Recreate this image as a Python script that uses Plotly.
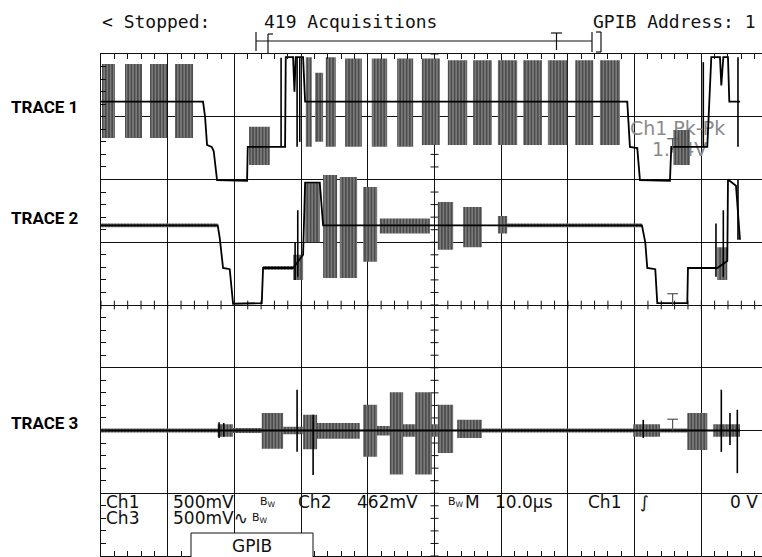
import plotly.graph_objects as go

# ---------------- data ----------------
# time axis: microseconds from the left graticule edge (10 us / div)
# vertical axis: screen divisions from the centre line (+4 top, -4 bottom)

# TRACE 1 : step (level) path
tr1_step_t = [0, 15.3, 15.6, 15.9, 16.6, 16.9, 17.4, 21.9, 22.0, 27.6, 27.7, 28.8, 29.0, 29.2, 30.3, 30.6,
              78.9, 79.3, 80.4, 80.8, 85.3, 85.5, 90.9, 91.5, 92.8, 93.0, 93.3, 94.0, 94.2, 95.8]
tr1_step_v = [3.24, 3.24, 3.0, 2.55, 2.52, 2.45, 1.99, 1.98, 2.52, 2.52, 3.95, 3.95, 3.4, 3.95, 3.95, 3.24,
              3.24, 2.52, 2.50, 1.99, 1.98, 2.52, 2.52, 3.95, 3.95, 3.5, 3.95, 3.95, 3.24, 3.24]
# TRACE 1 : oscillation bursts (start, end, envelope low, envelope high)
tr1_burst_t0 = [0.15, 3.6, 7.35, 11.1, 22.2, 30.7, 32.1, 33.7, 36.6, 40.6, 44.4, 48.1, 52.0, 55.8, 59.5, 63.3, 67.0, 71.1, 74.8, 85.8]
tr1_burst_t1 = [2.1, 6.15, 9.9, 13.8, 25.3, 31.6, 33.3, 35.2, 39.1, 42.9, 46.8, 50.8, 54.9, 58.6, 62.4, 66.1, 69.9, 73.8, 77.8, 88.3]
tr1_burst_lo = [2.66, 2.66, 2.66, 2.66, 2.23, 2.52, 2.60, 2.52, 2.52, 2.52, 2.52, 2.55, 2.55, 2.55, 2.55, 2.55, 2.55, 2.55, 2.55, 2.23]
tr1_burst_hi = [3.84, 3.84, 3.84, 3.84, 2.84, 3.95, 3.70, 3.95, 3.93, 3.93, 3.93, 3.93, 3.90, 3.90, 3.90, 3.90, 3.90, 3.90, 3.90, 2.79]
# TRACE 1 : single spikes
tr1_spike_t = [27.0, 29.4, 29.8, 90.3, 95.5]
tr1_spike_lo = [2.52, 2.52, 2.60, 2.52, 2.52]
tr1_spike_hi = [3.94, 3.95, 3.95, 3.87, 3.95]

# TRACE 2
tr2_step_t = [0, 17.5, 17.8, 18.3, 19.3, 19.8, 24.1, 24.3, 28.8, 30.3, 30.6, 32.8, 33.3,
              81.1, 81.6, 81.9, 83.1, 83.4, 87.9, 88.0, 92.4, 93.9, 94.0, 95.2, 95.8]
tr2_step_v = [1.27, 1.27, 1.07, 0.59, 0.57, 0.02, 0.03, 0.59, 0.59, 0.80, 1.95, 1.95, 1.27,
              1.27, 1.00, 0.59, 0.57, 0.03, 0.03, 0.59, 0.59, 0.70, 2.00, 1.90, 1.04]
tr2_burst_t0 = [0.0, 24.3, 28.8, 30.6, 33.3, 35.8, 39.3, 41.8, 50.5, 54.3, 59.5, 60.9, 92.4]
tr2_burst_t1 = [17.5, 28.8, 30.3, 32.8, 35.4, 38.4, 41.4, 49.3, 52.8, 57.1, 60.9, 81.1, 93.9]
tr2_burst_lo = [1.24, 0.56, 0.40, 1.00, 0.43, 0.43, 0.69, 1.14, 0.88, 0.92, 1.14, 1.24, 0.40]
tr2_burst_hi = [1.30, 0.62, 0.80, 1.94, 2.07, 2.04, 1.88, 1.38, 1.64, 1.56, 1.42, 1.30, 0.92]
tr2_spike_t = [29.1, 29.5, 92.2, 93.3, 95.5]
tr2_spike_lo = [0.40, 0.45, 0.45, 0.45, 1.04]
tr2_spike_hi = [1.00, 1.51, 1.30, 1.51, 2.00]

# TRACE 3
tr3_step_t = [0, 95.8]
tr3_step_v = [-2.0, -2.0]
tr3_burst_t0 = [0.0, 17.5, 19.8, 24.1, 27.3, 30.3, 32.4, 39.3, 41.4, 43.3, 45.3, 47.1, 49.6, 50.5, 53.4, 57.1, 79.8, 83.8, 87.9, 91.8]
tr3_burst_t1 = [17.5, 19.8, 24.1, 27.3, 30.3, 32.4, 38.8, 41.4, 43.3, 45.3, 47.1, 49.6, 50.5, 52.8, 57.1, 79.8, 83.8, 87.9, 90.9, 95.8]
tr3_burst_lo = [-2.03, -2.10, -2.04, -2.29, -2.06, -2.30, -2.13, -2.42, -2.08, -2.70, -2.10, -2.70, -2.10, -2.36, -2.12, -2.03, -2.10, -2.03, -2.31, -2.10]
tr3_burst_hi = [-1.97, -1.90, -1.96, -1.72, -1.94, -1.75, -1.88, -1.59, -1.93, -1.39, -1.90, -1.39, -1.90, -1.59, -1.83, -1.97, -1.90, -1.97, -1.72, -1.90]
tr3_spike_t = [17.7, 18.4, 29.4, 31.8, 81.3, 93.0, 94.3, 95.4]
tr3_spike_lo = [-2.12, -2.10, -2.34, -2.71, -2.12, -2.34, -2.23, -2.68]
tr3_spike_hi = [-1.87, -1.88, -1.35, -1.75, -1.83, -1.35, -1.72, -1.67]

# trigger-point markers
trig_t = 85.7
trig_base = [2.47, 0.0, -2.0]

trace_names = ["TRACE 1", "TRACE 2", "TRACE 3"]
header_texts = ["< Stopped:", "419 Acquisitions", "GPIB Address: 1"]
meas_label = "Ch1 Pk-Pk"
meas_value = "1.44V"
readout_row1 = ["Ch1", "500mV", "B<sub>W</sub>", "Ch2", "462mV", "B<sub>W</sub>", "M", "10.0\u00b5s", "Ch1", "\u222b", "0 V"]
readout_row2 = ["Ch3", "500mV\u223f", "B<sub>W</sub>"]
menu_button = "GPIB"

# ---------------- layout helpers (pixel geometry of the screen) ----------------
W, H = 762, 557
L, T, B = 101, 54, 1
PW, PH = W - L, H - T - B
XMAX = PW / 6.67  # 10 us per 66.7 px


def px(xp):
    return (xp - L) / PW


def py(yp):
    return (H - B - yp) / PH


INK = "#111111"
FONT = "DejaVu Sans"
MONO = "DejaVu Sans Mono"

fig = go.Figure()

# centre cross-hair minor ticks
cx, cy = [], []
k = 0
while k <= 40:
    v = -4 + k * 0.2
    cx += [49.4, 50.6, None]
    cy += [v, v, None]
    k += 1
k = 0
while k * 2 <= XMAX:
    t = k * 2
    cx += [t, t, None]
    cy += [-0.07, 0.07, None]
    k += 1
fig.add_trace(go.Scatter(x=cx, y=cy, mode="lines", line=dict(color=INK, width=1),
                         hoverinfo="skip", showlegend=False))

# measurement readout (grey, underneath the waveforms)
fig.add_trace(go.Scatter(x=[79.3, 82.6], y=[2.79, 2.45], mode="text", text=[meas_label, meas_value],
                         textposition="middle right", textfont=dict(family=FONT, size=19, color="#8a8a8a"),
                         hoverinfo="skip", showlegend=False))


def add_signal(st, sv, b0, b1, blo, bhi, sp_t, sp_lo, sp_hi):
    bx, by = [], []
    for a, b, lo, hi in zip(b0, b1, blo, bhi):
        bx += [a, b, b, a, None]
        by += [lo, lo, hi, hi, None]
    fig.add_trace(go.Scatter(
        x=bx, y=by, mode="lines", fill="toself", line=dict(width=0, color="rgba(0,0,0,0)"),
        fillcolor="#999999",
        fillpattern=dict(shape="|", size=3.2, solidity=0.7, fgcolor="#000000", bgcolor="#999999"),
        hoverinfo="skip", showlegend=False))
    fig.add_trace(go.Scatter(x=st, y=sv, mode="lines", line=dict(color="#000", width=1.8, shape="linear"),
                             hoverinfo="skip", showlegend=False))
    sx, sy = [], []
    for t, lo, hi in zip(sp_t, sp_lo, sp_hi):
        sx += [t, t, None]
        sy += [lo, hi, None]
    fig.add_trace(go.Scatter(x=sx, y=sy, mode="lines", line=dict(color="#000", width=1.6),
                             hoverinfo="skip", showlegend=False))


add_signal(tr1_step_t, tr1_step_v, tr1_burst_t0, tr1_burst_t1, tr1_burst_lo, tr1_burst_hi,
           tr1_spike_t, tr1_spike_lo, tr1_spike_hi)
add_signal(tr2_step_t, tr2_step_v, tr2_burst_t0, tr2_burst_t1, tr2_burst_lo, tr2_burst_hi,
           tr2_spike_t, tr2_spike_lo, tr2_spike_hi)
add_signal(tr3_step_t, tr3_step_v, tr3_burst_t0, tr3_burst_t1, tr3_burst_lo, tr3_burst_hi,
           tr3_spike_t, tr3_spike_lo, tr3_spike_hi)

# trigger "T" markers
mx, my = [], []
for base in trig_base:
    mx += [trig_t - 0.8, trig_t + 0.8, None, trig_t, trig_t, None]
    my += [base + 0.18, base + 0.18, None, base + 0.18, base, None]
fig.add_trace(go.Scatter(x=mx, y=my, mode="lines", line=dict(color="#555", width=1.2),
                         hoverinfo="skip", showlegend=False))

shapes = []


def seg(x0, y0, x1, y1, w=1.2):
    shapes.append(dict(type="line", xref="paper", yref="paper", x0=px(x0), y0=py(y0), x1=px(x1), y1=py(y1),
                       line=dict(color=INK, width=w)))


# record-view bracket above the graticule
seg(256, 41, 592, 41)
seg(256, 32, 256, 51)
seg(268, 34, 268, 54)
seg(268, 34, 273, 34)
seg(551, 33, 562, 33)
seg(556.5, 33, 556.5, 50)
seg(592, 32, 592, 52)
seg(601, 32, 601, 52)
seg(596, 32, 601, 32)
seg(596, 52, 601, 52)

# GPIB soft-key box
shapes.append(dict(type="rect", xref="paper", yref="paper", x0=px(191), x1=px(313), y0=py(533), y1=py(560),
                   fillcolor="white", line=dict(color=INK, width=1), layer="above"))

annotations = []


def note(text, x, y, size=17, anchor="left", family=FONT, color=INK):
    annotations.append(dict(text=text, xref="paper", yref="paper", x=px(x), y=py(y), xanchor=anchor,
                            yanchor="middle", showarrow=False, font=dict(family=family, size=size, color=color)))


note(header_texts[0], 100, 21, 18, family=MONO)
note(header_texts[1], 262, 21, 18, family=MONO)
note(header_texts[2], 758, 21, 18, anchor="right", family=MONO)

label_y = [107, 218, 423]
for name, yy in zip(trace_names, label_y):
    note("<b>" + name + "</b>", 9, yy, 17, family="Roboto", color="#000")

row1_x = [104, 171, 258, 296, 355, 446, 463, 493, 586, 638, 760]
for i, (txt, xx) in enumerate(zip(readout_row1, row1_x)):
    note(txt, xx, 502, 11 if "sub" in txt else 17, anchor="right" if i == len(readout_row1) - 1 else "left")
row2_x = [104, 171, 250]
for txt, xx in zip(readout_row2, row2_x):
    note(txt, xx, 518, 11 if "sub" in txt else 17)
annotations.append(dict(text=menu_button, xref="paper", yref="paper", x=px(252), y=py(546), xanchor="center",
                        yanchor="middle", showarrow=False, font=dict(family=FONT, size=17, color=INK)))

fig.update_layout(
    width=W, height=H, margin=dict(l=L, r=0, t=T, b=B, pad=0),
    paper_bgcolor="white", plot_bgcolor="white", showlegend=False,
    shapes=shapes, annotations=annotations,
    xaxis=dict(range=[0, XMAX], dtick=10, tick0=0, showgrid=True, gridcolor=INK, gridwidth=1,
               showline=True, linecolor=INK, linewidth=1, mirror="ticks", ticks="inside", ticklen=5,
               tickcolor=INK, showticklabels=False, zeroline=False, fixedrange=True,
               minor=dict(dtick=2, tick0=0, ticks="inside", ticklen=5, tickcolor=INK, showgrid=False)),
    yaxis=dict(range=[-4, 4], dtick=1, tick0=0, showgrid=True, gridcolor=INK, gridwidth=1,
               showline=True, linecolor=INK, linewidth=1, mirror=False, ticks="inside", ticklen=5,
               tickcolor=INK, showticklabels=False, zeroline=False, fixedrange=True,
               minor=dict(dtick=0.2, tick0=0, ticks="inside", ticklen=5, tickcolor=INK, showgrid=False)),
)

fig.write_html("out.html", config={"displayModeBar": False},
               post_script="document.body.style.margin='0px';document.body.style.overflow='hidden';")
